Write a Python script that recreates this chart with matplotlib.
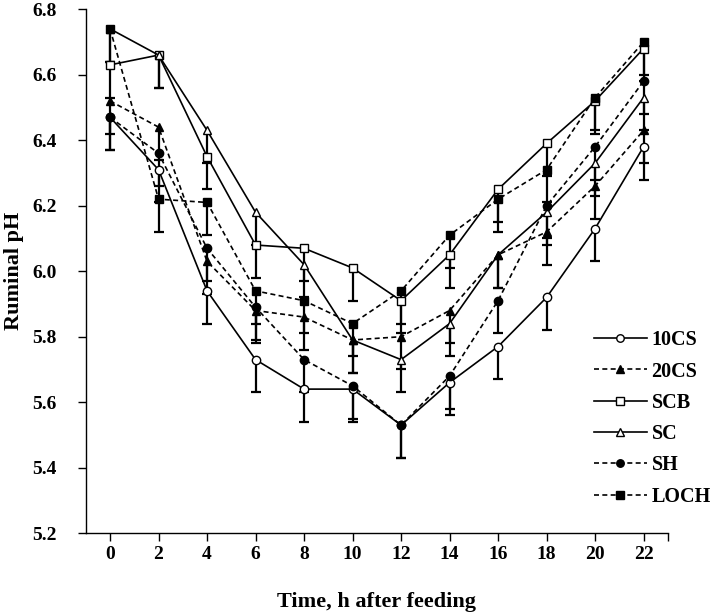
import matplotlib
matplotlib.use("Agg")
import matplotlib.pyplot as plt
import numpy as np

# ── Data ──────────────────────────────────────────────────────────────────────
hours = [0, 2, 4, 6, 8, 10, 12, 14, 16, 18, 20, 22]

ph_10cs = [6.47, 6.31, 5.94, 5.73, 5.64, 5.64, 5.53, 5.66, 5.77, 5.92, 6.13, 6.38]
ph_20cs = [6.52, 6.44, 6.03, 5.88, 5.86, 5.79, 5.80, 5.88, 6.05, 6.12, 6.26, 6.43]
ph_scb  = [6.63, 6.66, 6.35, 6.08, 6.07, 6.01, 5.91, 6.05, 6.25, 6.39, 6.52, 6.68]
ph_sc   = [6.74, 6.66, 6.43, 6.18, 6.02, 5.79, 5.73, 5.84, 6.05, 6.18, 6.33, 6.53]
ph_sh   = [6.47, 6.36, 6.07, 5.89, 5.73, 5.65, 5.53, 5.68, 5.91, 6.20, 6.38, 6.58]
ph_loch = [6.74, 6.22, 6.21, 5.94, 5.91, 5.84, 5.94, 6.11, 6.22, 6.31, 6.53, 6.70]

treatments = ["10CS", "20CS", "SCB", "SC", "SH", "LOCH"]
sem = 0.10  # pooled SEM, drawn as downward bars only

# ── Style ─────────────────────────────────────────────────────────────────────
plt.rcParams["font.family"] = ["Liberation Serif", "DejaVu Serif"]
plt.rcParams["font.weight"] = "bold"

DASH = (0, (3.0, 2.0))
styles = {
    "10CS": dict(marker="o", mfc="white", ls="-",  z=3),
    "20CS": dict(marker="^", mfc="black", ls=DASH, z=5),
    "SCB":  dict(marker="s", mfc="white", ls="-",  z=3),
    "SC":   dict(marker="^", mfc="white", ls="-",  z=3),
    "SH":   dict(marker="o", mfc="black", ls=DASH, z=5),
    "LOCH": dict(marker="s", mfc="black", ls=DASH, z=5),
}
series = [ph_10cs, ph_20cs, ph_scb, ph_sc, ph_sh, ph_loch]

fig = plt.figure(figsize=(7.15, 6.15), dpi=100)
ax = fig.add_axes([0.120, 0.133, 0.814, 0.852])

x = np.array(hours)
for name, y in zip(treatments, series):
    st = styles[name]
    y = np.array(y)
    # downward error bars
    _, caps, _ = ax.errorbar(x, y, yerr=[np.full_like(y, sem), np.zeros_like(y)],
                             fmt="none", ecolor="black", elinewidth=1.6,
                             capsize=3.8, capthick=1.6, zorder=2)
    caps[1].set_visible(False)
    ax.plot(x, y, color="black", lw=1.2, ls=st["ls"], marker=st["marker"],
            ms=6, mfc=st["mfc"], mec="black", mew=1.0, zorder=st["z"], label=name)

ax.set_xlim(-1, 23)
ax.set_ylim(5.2, 6.8)
ax.set_xticks(hours)
ax.set_xticks([23], minor=True)
ax.set_yticks(np.arange(5.2, 6.81, 0.2))
ax.yaxis.set_major_formatter(matplotlib.ticker.FormatStrFormatter("%.1f"))

for side in ("top", "right"):
    ax.spines[side].set_visible(False)
for side in ("left", "bottom"):
    ax.spines[side].set_linewidth(1.0)

ax.tick_params(axis="both", which="both", direction="out", length=6, width=1.0,
               labelsize=14)
ax.tick_params(axis="x", pad=3)
ax.tick_params(axis="y", pad=15)

ax.set_xlabel("Time, h after feeding", fontsize=16, fontweight="bold", labelpad=21)
ax.set_ylabel("Ruminal pH", fontsize=16, fontweight="bold", labelpad=6)

leg = ax.legend(loc="upper left", bbox_to_anchor=(0.831, 0.463),
                bbox_transform=fig.transFigure, frameon=False,
                fontsize=14.5, handlelength=2.6, handletextpad=0.25,
                labelspacing=0.56, borderpad=0, borderaxespad=0, markerscale=0.9)

fig.savefig("out.png", dpi=100)
